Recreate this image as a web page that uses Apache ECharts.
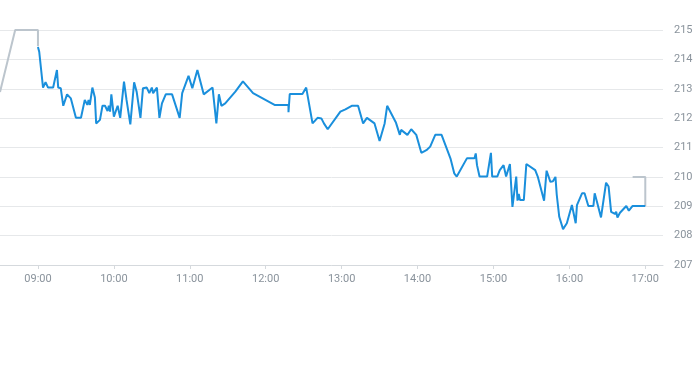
<!DOCTYPE html>
<html><head><meta charset="utf-8">
<script src="https://cdn.jsdelivr.net/npm/echarts@6/dist/echarts.min.js"></script>
<style>html,body{margin:0;padding:0;background:#fff}#c{width:693px;height:365px}</style>
</head><body><div id="c"></div>
<script>
// Pre-market (gray)
const preTimes = ["08:30","08:42","09:00","09:00"];
const preValues = [212.89,215.0,215.0,214.45];
// Regular session (blue)
const mainTimes = ["09:00","09:01","09:04","09:06","09:08","09:12","09:15","09:16","09:18","09:20","09:23","09:26","09:30","09:34","09:37","09:39","09:40","09:41","09:43","09:45","09:46","09:49","09:51","09:53","09:55","09:56","09:57","09:58","10:00","10:03","10:05","10:08","10:10","10:13","10:16","10:18","10:21","10:23","10:26","10:28","10:30","10:31","10:34","10:36","10:38","10:41","10:46","10:52","10:54","10:59","11:02","11:06","11:11","11:18","11:19","11:21","11:23","11:25","11:28","11:36","11:42","11:50","12:07","12:18","12:18","12:19","12:29","12:32","12:37","12:41","12:44","12:46","12:49","12:59","13:03","13:08","13:13","13:17","13:20","13:26","13:30","13:34","13:36","13:43","13:46","13:47","13:52","13:55","13:59","14:03","14:07","14:10","14:14","14:19","14:26","14:29","14:31","14:39","14:45","14:46","14:47","14:49","14:55","14:58","14:59","15:03","15:05","15:08","15:10","15:13","15:15","15:18","15:19","15:20","15:21","15:24","15:26","15:33","15:35","15:40","15:42","15:45","15:47","15:49","15:50","15:52","15:55","15:58","16:02","16:05","16:06","16:10","16:12","16:15","16:19","16:20","16:22","16:25","16:29","16:31","16:33","16:36","16:37","16:38","16:40","16:41","16:45","16:47","16:50","17:00"];
const mainValues = [214.42,214.26,213.04,213.22,213.04,213.04,213.64,213.04,213.02,212.42,212.81,212.67,212.01,212.01,212.62,212.45,212.62,212.45,213.04,212.70,211.82,211.94,212.42,212.42,212.24,212.42,212.22,212.81,212.05,212.42,212.01,213.24,212.62,211.79,213.22,212.9,212.01,213.02,213.04,212.85,213.04,212.85,213.04,212.01,212.50,212.81,212.81,212.01,212.85,213.44,213.02,213.64,212.81,213.04,213.04,211.82,212.81,212.42,212.50,212.90,213.25,212.85,212.45,212.45,212.20,212.82,212.82,213.04,211.82,212.01,211.99,211.82,211.62,212.22,212.30,212.42,212.42,211.82,212.01,211.82,211.22,211.82,212.42,211.84,211.43,211.60,211.43,211.62,211.43,210.82,210.91,211.03,211.43,211.43,210.63,210.12,210.01,210.63,210.63,210.80,210.40,210.01,210.01,210.82,210.01,210.01,210.23,210.40,210.01,210.44,208.98,210.01,209.19,209.42,209.21,209.21,210.44,210.23,210.01,209.19,210.21,209.83,209.85,210.0,209.4,208.64,208.22,208.42,209.04,208.42,209.04,209.44,209.44,209.01,209.01,209.44,209.12,208.62,209.80,209.67,208.81,208.74,208.81,208.62,208.78,208.75,209.01,208.85,209.01,209.01];
// After-hours (gray)
const postTimes = ["17:00","17:00","16:50"];
const postValues = [209.01,210.0,210.0];
// Axis ticks
const hourTicks = ["09:00","10:00","11:00","12:00","13:00","14:00","15:00","16:00","17:00"];
const yTicks = [207,208,209,210,211,212,213,214,215];

const toMin = s => { const [h,m] = s.split(":").map(Number); return h*60+m; };
const fmt = v => { const h = Math.floor(v/60), m = Math.round(v%60); return String(h).padStart(2,"0")+":"+String(m).padStart(2,"0"); };
const pairs = (t,v) => t.map((s,i)=>[toMin(s), v[i]]);
const tickMins = hourTicks.map(toMin);

const chart = echarts.init(document.getElementById('c'));
chart.setOption({
  animation:false,
  grid:{left:0,right:30,top:30,bottom:100,containLabel:false,outerBoundsMode:'none'},
  xAxis:{type:'value',min:toMin("08:30"),max:toMin("17:14"),
    splitLine:{show:false},
    axisLine:{show:true,lineStyle:{color:'#d5d9dd',width:1}},
    axisTick:{show:true,customValues:tickMins,length:4,lineStyle:{color:'#d5d9dd'}},
    axisLabel:{customValues:tickMins,formatter:v=>fmt(v),color:'#8a939c',fontSize:11,margin:9,fontFamily:'Roboto, sans-serif'}},
  yAxis:{type:'value',position:'right',min:yTicks[0],max:yTicks[yTicks.length-1],interval:1,
    axisLine:{show:false},axisTick:{show:false},
    splitLine:{lineStyle:{color:'#e6e8ea',width:1}},
    axisLabel:{formatter:v=>v.toFixed(2),color:'#8a939c',fontSize:11,margin:11,fontFamily:'Roboto, sans-serif'}},
  series:[
    {type:'line',data:pairs(preTimes,preValues),symbol:'none',lineStyle:{color:'#bcc5cd',width:2},z:2},
    {type:'line',data:pairs(postTimes,postValues),symbol:'none',lineStyle:{color:'#bcc5cd',width:2},z:2},
    {type:'line',data:pairs(mainTimes,mainValues),symbol:'none',lineStyle:{color:'#1a8fdc',width:2},z:3}
  ]
});
</script></body></html>
